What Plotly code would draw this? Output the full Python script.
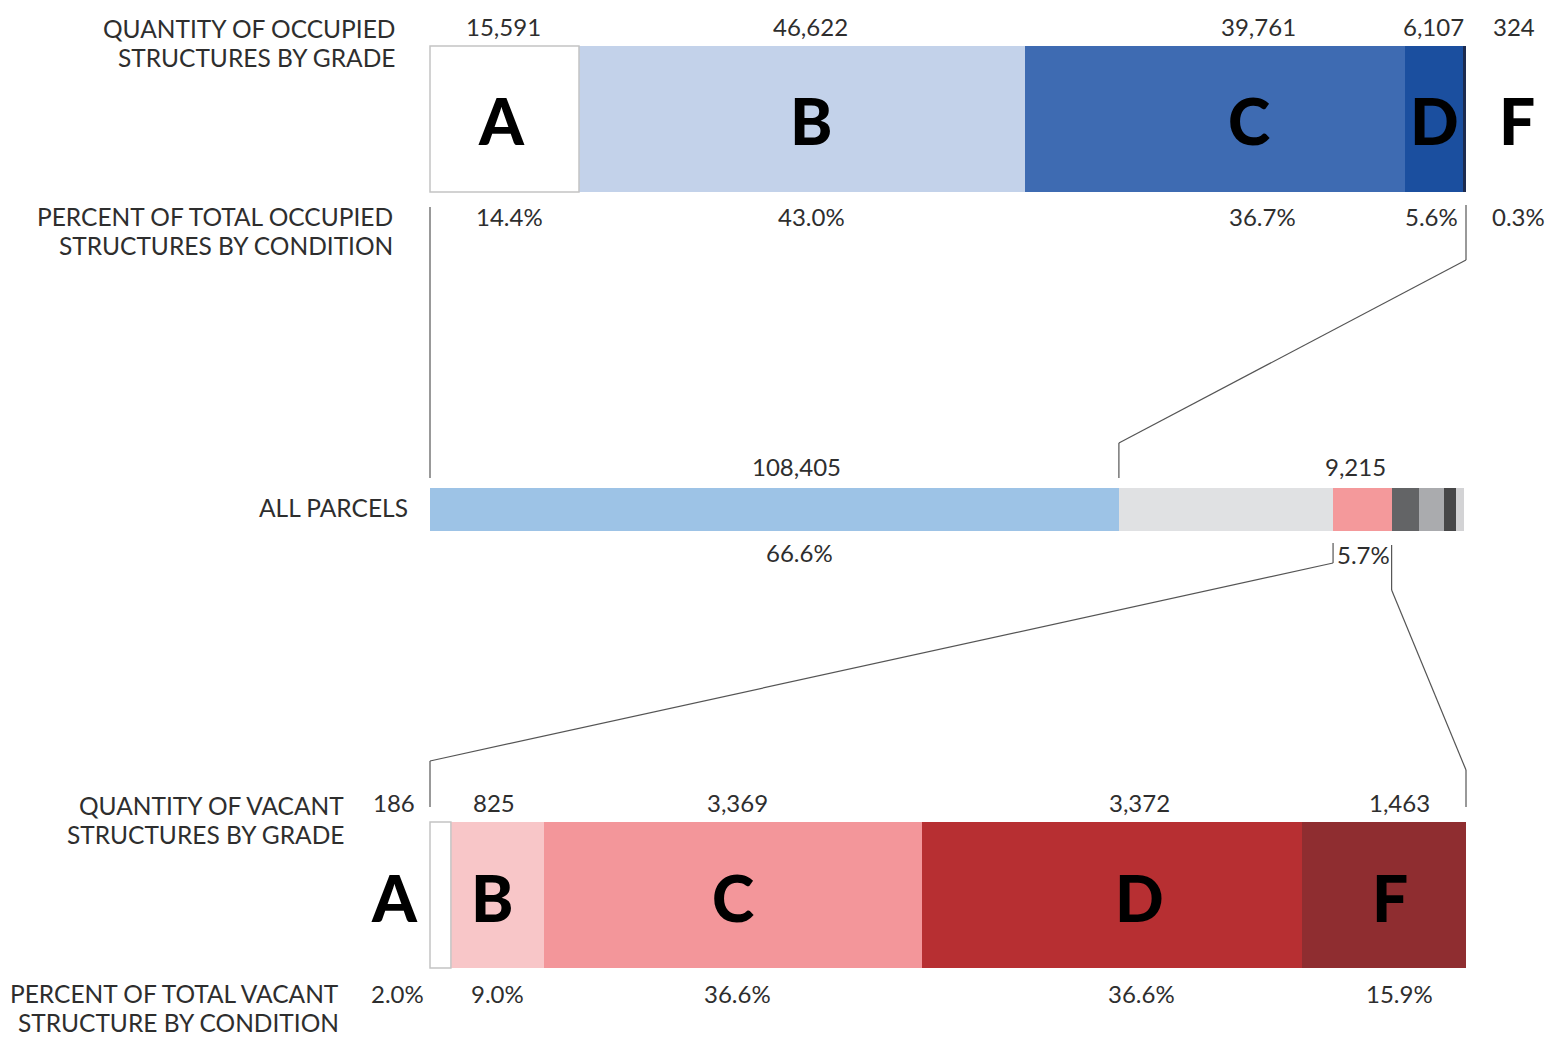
import plotly.graph_objects as go

# ---- data -------------------------------------------------------------
grades = ["A", "B", "C", "D", "F"]
occupied_counts = [15591, 46622, 39761, 6107, 324]
vacant_counts = [186, 825, 3369, 3372, 1463]

# all parcels split: occupied, other parcel types, vacant structures, remaining groups
parcel_groups = ["Occupied", "Other", "Vacant structures", "Group 4", "Group 5", "Group 6", "Group 7"]
parcel_counts = [108405, 33700, 9215, 4230, 4070, 1790, 1300]

# ---- styling ----------------------------------------------------------
W, H = 1564, 1037
FONT = "Lato, 'Open Sans', sans-serif"
TXT = "#2e2e2e"
NUM_SIZE = 24
TITLE_SIZE = 24.5

occ_colors = ["#ffffff", "#c3d2ea", "#3e6bb2", "#1b4f9f", "#1d2b4f"]
vac_colors = ["#ffffff", "#f8c6c8", "#f3969a", "#b72f32", "#8f2d30"]
parcel_colors = ["#9dc3e6", "#e0e1e3", "#f4999b", "#636466", "#aaabae", "#474748", "#d3d3d5"]

# pixel geometry of the three bars
top_dom_x = [430 / W, 1466 / W]
mid_dom_x = [430 / W, 1464 / W]
bot_dom_x = [430 / W, 1466 / W]


def py(p):
    """pixel row -> paper y"""
    return 1 - p / H


top_dom_y = [py(192), py(46)]
mid_dom_y = [py(531), py(488)]
bot_dom_y = [py(968), py(822)]

occ_total = sum(occupied_counts)
vac_total = sum(vacant_counts)
all_total = sum(parcel_counts)


def to_paper(dom, total, value):
    return dom[0] + (dom[1] - dom[0]) * value / total


fig = go.Figure()


def add_stack(values, colors, xa, ya):
    for v, c in zip(values, colors):
        fig.add_trace(go.Bar(
            x=[v], y=[0], orientation="h", width=1,
            marker=dict(color=c, line=dict(width=0)),
            xaxis=xa, yaxis=ya,
            showlegend=False, hoverinfo="x",
        ))


add_stack(occupied_counts, occ_colors, "x", "y")
add_stack(parcel_counts, parcel_colors, "x2", "y2")
add_stack(vacant_counts, vac_colors, "x3", "y3")


def centers(values):
    out, acc = [], 0
    for v in values:
        out.append(acc + v / 2)
        acc += v
    return out


ann = []


def label(text, x, xref, y, size=NUM_SIZE, xshift=0, yshift=0, yref="paper", bold=False, color=TXT):
    ann.append(dict(
        text=text, x=x, xref=xref, y=y, yref=yref, showarrow=False,
        xanchor="center", yanchor="middle", xshift=xshift, yshift=yshift,
        font=dict(family=FONT, size=size, color=color, weight=900 if bold else 400),
    ))


# occupied bar labels
occ_c = centers(occupied_counts)
occ_num_shift = [-1, 9, 44, 0, 50]
occ_let_shift = [-3, 9, 34, 1, 53]
occ_pct_shift = [5, 10, 48, -2, 54]
for i, g in enumerate(grades):
    label(f"{occupied_counts[i]:,}", occ_c[i], "x", py(26), xshift=occ_num_shift[i])
    label(f"{occupied_counts[i] / occ_total * 100:.1f}%", occ_c[i], "x", py(216), xshift=occ_pct_shift[i])
    label(g, occ_c[i], "x", 0, yref="y", size=64, bold=True, xshift=occ_let_shift[i], yshift=-2, color="#000000")

# vacant bar labels
vac_c = centers(vacant_counts)
vac_num_shift = [-46, -3, 4, 28, 16]
vac_let_shift = [-46, -5, 0, 28, 6]
vac_pct_shift = [-43, 0, 4, 30, 16]
for i, g in enumerate(grades):
    label(f"{vacant_counts[i]:,}", vac_c[i], "x3", py(802), xshift=vac_num_shift[i])
    label(f"{vacant_counts[i] / vac_total * 100:.1f}%", vac_c[i], "x3", py(993), xshift=vac_pct_shift[i])
    label(g, vac_c[i], "x3", 0, yref="y3", size=64, bold=True, xshift=vac_let_shift[i], yshift=-2, color="#000000")

# all-parcels labels (occupied and vacant-structure groups)
par_c = centers(parcel_counts)
label(f"{parcel_counts[0]:,}", par_c[0], "x2", py(467), xshift=22)
label(f"{parcel_counts[0] / all_total * 100:.1f}%", par_c[0], "x2", py(552), xshift=25)
label(f"{parcel_counts[2]:,}", par_c[2], "x2", py(467), xshift=-7)
label(f"{parcel_counts[2] / all_total * 100:.1f}%", par_c[2], "x2", py(554), xshift=1)


def row_title(lines, right_px, first_py):
    for k, t in enumerate(lines):
        ann.append(dict(
            text=t, x=right_px / W, xref="paper", y=py(first_py + 29.5 * k), yref="paper",
            showarrow=False, xanchor="right", yanchor="middle",
            font=dict(family=FONT, size=TITLE_SIZE, color=TXT),
        ))


row_title(["QUANTITY OF OCCUPIED", "STRUCTURES BY GRADE"], 397, 28)
row_title(["PERCENT OF TOTAL OCCUPIED", "STRUCTURES BY CONDITION"], 395, 216)
row_title(["ALL PARCELS"], 410, 507)
row_title(["QUANTITY OF VACANT", "STRUCTURES BY GRADE"], 346, 805)
row_title(["PERCENT OF TOTAL VACANT", "STRUCTURE BY CONDITION"], 341, 993)

shapes = []

# thin outline round the white grade-A segments
for dom_x, dom_y, total, v in [(top_dom_x, top_dom_y, occ_total, occupied_counts[0]),
                               (bot_dom_x, bot_dom_y, vac_total, vacant_counts[0])]:
    shapes.append(dict(type="rect", xref="paper", yref="paper",
                       x0=to_paper(dom_x, total, 0), x1=to_paper(dom_x, total, v),
                       y0=dom_y[0], y1=dom_y[1],
                       line=dict(color="#c4c4c4", width=1.5), fillcolor="rgba(0,0,0,0)"))

# ---- connector lines between the bars --------------------------------
occ_start_mid = to_paper(mid_dom_x, all_total, 0)
occ_end_mid = to_paper(mid_dom_x, all_total, parcel_counts[0])
vac_start_mid = to_paper(mid_dom_x, all_total, sum(parcel_counts[:2]))
vac_end_mid = to_paper(mid_dom_x, all_total, sum(parcel_counts[:3]))
occ_start_top = to_paper(top_dom_x, occ_total, 0)
occ_end_top = to_paper(top_dom_x, occ_total, occ_total)
vac_start_bot = to_paper(bot_dom_x, vac_total, 0)
vac_end_bot = to_paper(bot_dom_x, vac_total, vac_total)

connectors = [
    [(occ_start_top, 207), (occ_start_mid, 478)],
    [(occ_end_top, 205), (occ_end_top, 260), (occ_end_mid, 443), (occ_end_mid, 478)],
    [(vac_start_mid, 543), (vac_start_mid, 563), (vac_start_bot, 761), (vac_start_bot, 807)],
    [(vac_end_mid, 545), (vac_end_mid, 590), (vac_end_bot, 770), (vac_end_bot, 807)],
]
for path in connectors:
    for (x0, y0), (x1, y1) in zip(path[:-1], path[1:]):
        shapes.append(dict(type="line", xref="paper", yref="paper",
                           x0=x0, y0=py(y0), x1=x1, y1=py(y1),
                           line=dict(color="#555555", width=1.2)))

hidden = dict(visible=False, showgrid=False, zeroline=False, fixedrange=True)
fig.update_layout(
    width=W, height=H,
    margin=dict(l=0, r=0, t=0, b=0),
    paper_bgcolor="white", plot_bgcolor="rgba(0,0,0,0)",
    barmode="stack", bargap=0,
    showlegend=False,
    xaxis=dict(domain=top_dom_x, range=[0, occ_total], anchor="y", **hidden),
    yaxis=dict(domain=top_dom_y, range=[-0.5, 0.5], anchor="x", **hidden),
    xaxis2=dict(domain=mid_dom_x, range=[0, all_total], anchor="y2", **hidden),
    yaxis2=dict(domain=mid_dom_y, range=[-0.5, 0.5], anchor="x2", **hidden),
    xaxis3=dict(domain=bot_dom_x, range=[0, vac_total], anchor="y3", **hidden),
    yaxis3=dict(domain=bot_dom_y, range=[-0.5, 0.5], anchor="x3", **hidden),
    annotations=ann,
    shapes=shapes,
)

fig.write_html("out.html", config={"displayModeBar": False})
